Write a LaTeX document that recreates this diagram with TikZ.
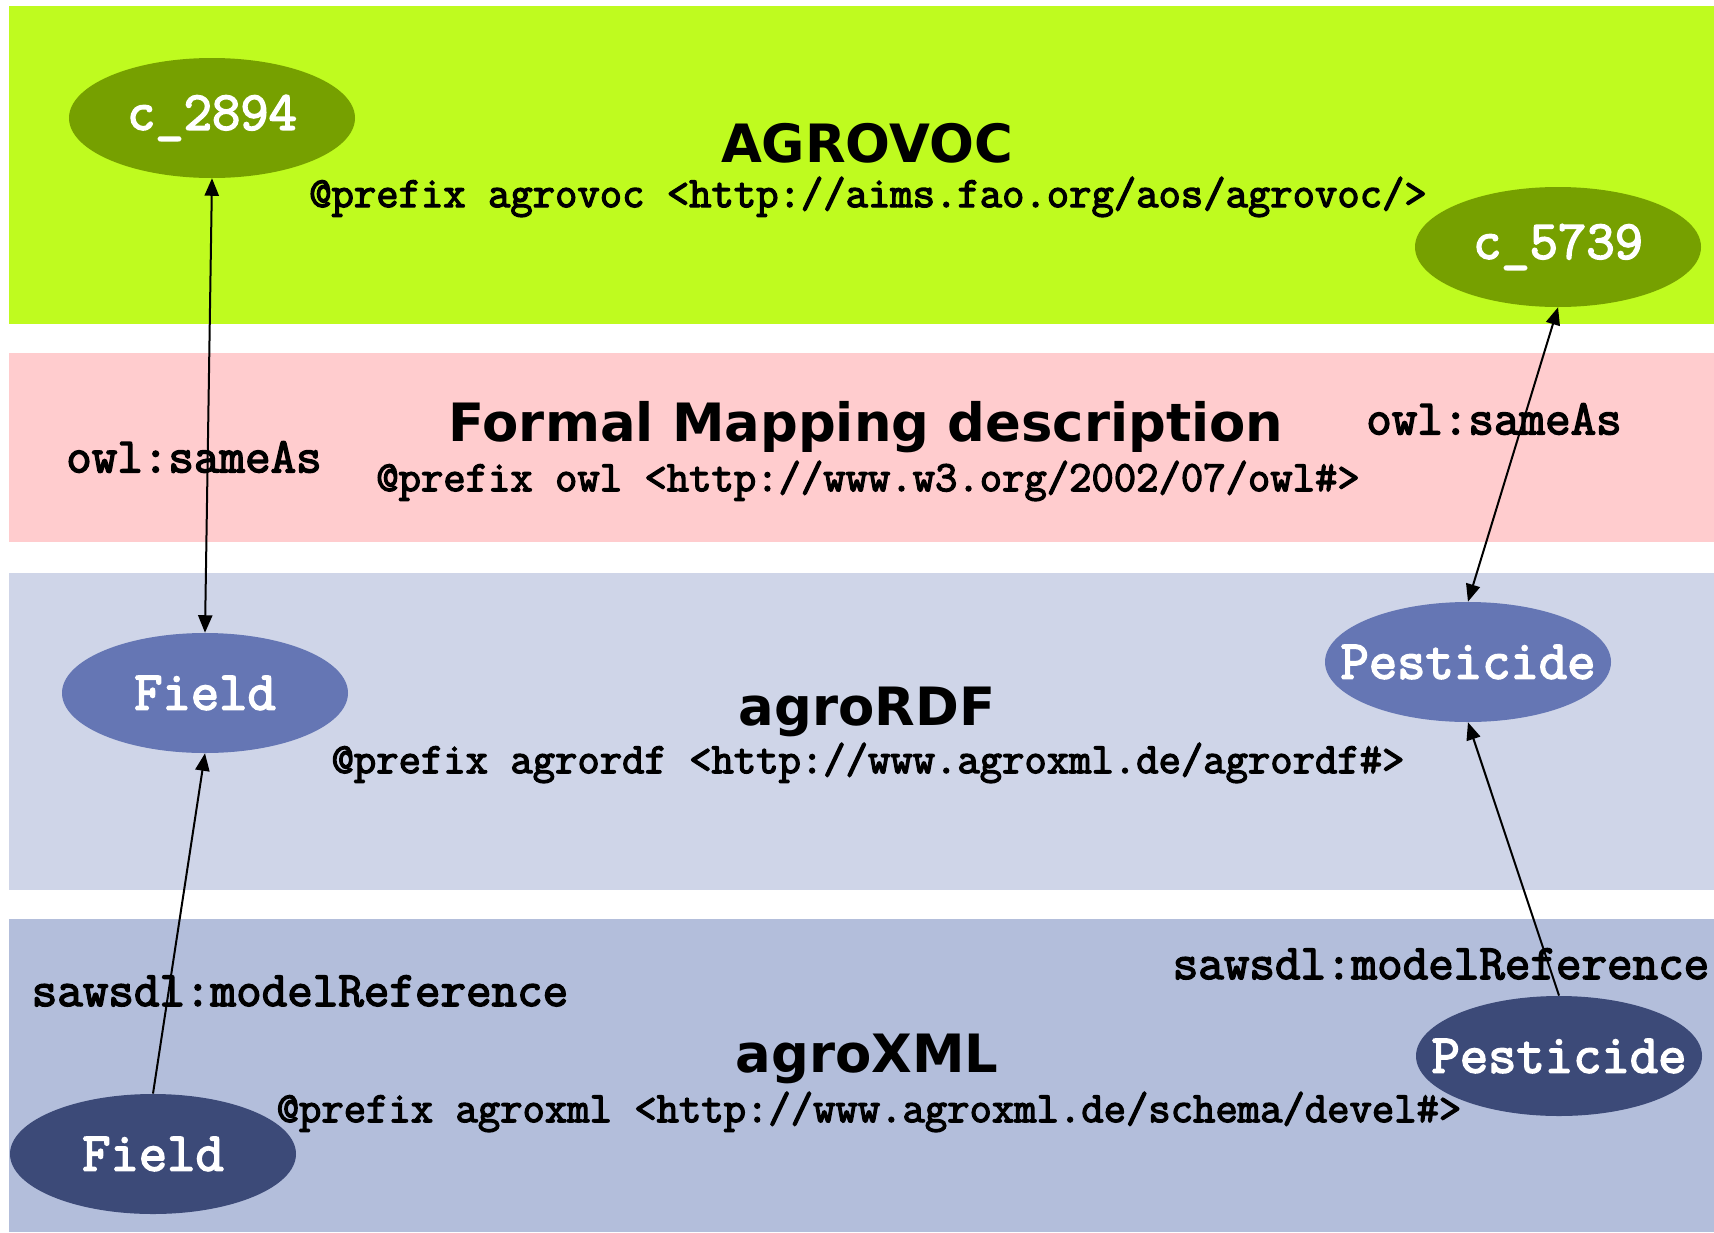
\documentclass[tikz,border=0pt]{standalone}
\usepackage{fontspec}
\usepackage{tikz}
\usetikzlibrary{shapes.geometric,arrows}
\newfontfamily\titlefont{DejaVu Sans}
\newfontfamily\codefont[FakeBold=3]{Latin Modern Mono}
\definecolor{vocband}{RGB}{191,251,31}
\definecolor{vocnode}{RGB}{118,160,0}
\definecolor{mapband}{RGB}{255,204,206}
\definecolor{rdfband}{RGB}{207,213,232}
\definecolor{rdfnode}{RGB}{101,118,180}
\definecolor{xmlband}{RGB}{179,190,219}
\definecolor{xmlnode}{RGB}{60,74,120}
\tikzset{
  layertitle/.style={font=\titlefont\bfseries\fontsize{26.4}{30}\selectfont, inner sep=0pt},
  prefixline/.style={font=\codefont\fontsize{21.7}{25}\selectfont, inner sep=0pt},
  relname/.style={font=\codefont\fontsize{24.8}{28}\selectfont, inner sep=0pt},
  concept/.style={ellipse, draw=none, minimum width=143pt, minimum height=60pt, inner sep=0pt,
    label={[font=\codefont\fontsize{27.5}{30}\selectfont, text=white]center:#1}},
  link/.style={line width=1pt}
}
\begin{document}
\begin{tikzpicture}[x=0.5pt,y=-0.5pt]
	    \useasboundingbox (0,0) rectangle (1714,1232);
	    % layers
        \fill[vocband] (9,6) rectangle (1714,324);
        \fill[mapband] (9,353) rectangle (1714,542);
        \fill[rdfband] (9,573) rectangle (1714,890);
        \fill[xmlband] (9,919) rectangle (1714,1232);
        \node[layertitle] (agrovoc) at (867,143) {AGROVOC};
        \node[prefixline] (agrovocpfx) at (868,197) {@prefix agrovoc <http://aims.fao.org/aos/agrovoc/>};
        \node[layertitle] (mapping) at (866,427) {Formal Mapping description};
        \node[prefixline] (owlpfx) at (868,481) {@prefix owl <http://www.w3.org/2002/07/owl\#>};
        \node[layertitle] (agrordf) at (867,712) {agroRDF};
        \node[prefixline] (agrordfpfx) at (868,763) {@prefix agrordf <http://www.agroxml.de/agrordf\#>};
        \node[layertitle] (agroxml) at (867,1059) {agroXML};
        \node[prefixline] (agroxmlpfx) at (869,1112) {@prefix agroxml <http://www.agroxml.de/schema/devel\#>};
        % concepts
        \node[concept={c\_2894}, fill=vocnode] (c2894) at (212,118) {};
        \node[concept={c\_5739}, fill=vocnode] (c5739) at (1558,247) {};
        \node[concept={Field}, fill=rdfnode] (fieldrdf) at (205,693) {};
        \node[concept={Pesticide}, fill=rdfnode] (pestrdf) at (1468,662) {};
        \node[concept={Field}, fill=xmlnode] (fieldxml) at (153,1154) {};
        \node[concept={Pesticide}, fill=xmlnode] (pestxml) at (1559,1056) {};
        % links
        \draw[link,triangle 45-triangle 45] (c2894.south) -- (fieldrdf.north);
        \draw[link,triangle 45-triangle 45] (c5739.south) -- (pestrdf.north);
        \draw[link,-triangle 45] (fieldxml.north) -- (fieldrdf.south);
        \draw[link,-triangle 45] (pestxml.north) -- (pestrdf.south);
        \node[relname] (sameleft) at (194,457) {owl:sameAs};
        \node[relname] (sameright) at (1494,419) {owl:sameAs};
        \node[relname] (refleft) at (300,991) {sawsdl:modelReference};
        \node[relname] (refright) at (1441,964) {sawsdl:modelReference};
\end{tikzpicture}
\end{document}
